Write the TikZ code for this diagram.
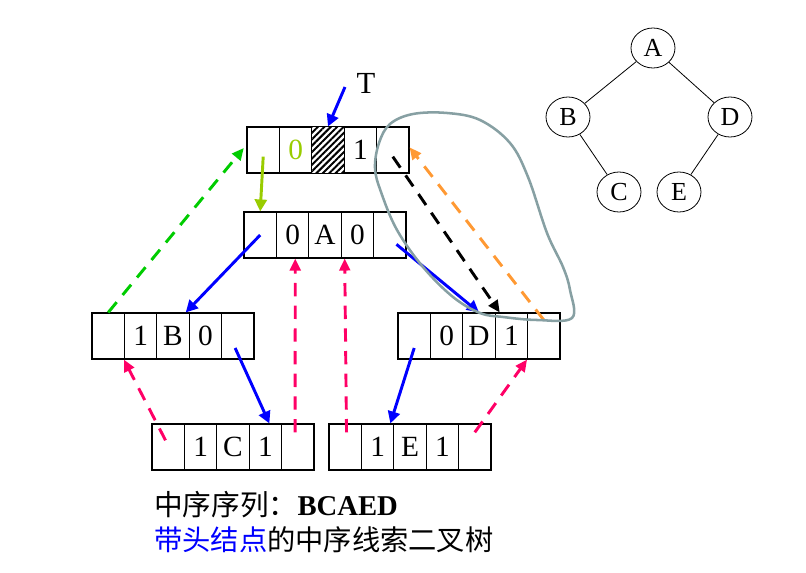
\documentclass[tikz,border=0pt]{standalone}
\usepackage{fontspec}
\setmainfont{Liberation Serif}
\newfontfamily\cjk{Noto Sans CJK SC}
\usetikzlibrary{arrows.meta,shapes.geometric,patterns.meta,calc}
\definecolor{myblue}{RGB}{0,0,255}
\definecolor{mygreen}{RGB}{0,204,0}
\definecolor{myolive}{RGB}{153,204,0}
\definecolor{mypink}{RGB}{255,0,102}
\definecolor{myorange}{RGB}{255,153,51}
\definecolor{loopgray}{RGB}{135,160,163}
\tikzset{
  cellbox/.style={draw,line width=0.8pt,minimum width=24.3pt,minimum height=34.5pt,inner sep=0pt,font=\fontsize{22}{24}\selectfont},
  treenode/.style={draw,ellipse,line width=0.6pt,minimum width=33pt,minimum height=30pt,inner sep=0pt,font=\fontsize{19.5}{21}\selectfont},
  treeedge/.style={line width=0.6pt},
  solidarr/.style={line width=2.2pt,-{Triangle[length=9pt,width=9pt]}},
  dasharr/.style={line width=2.2pt,dash pattern=on 10pt off 7pt,-{Triangle[length=9pt,width=8pt]}},
  loopline/.style={draw=loopgray,line width=1.9pt}
}
\newcommand\rec[8]{%
  \node[cellbox] (#1-1) at ({#2+16.2},{#3+23}) {#4};
  \node[cellbox] (#1-2) at ({#2+48.6},{#3+23}) {#5};
  \node[cellbox] (#1-3) at ({#2+81},{#3+23}) {#6};
  \node[cellbox] (#1-4) at ({#2+113.4},{#3+23}) {#7};
  \node[cellbox] (#1-5) at ({#2+145.8},{#3+23}) {#8};
}
\begin{document}
\begin{tikzpicture}[x=0.75pt,y=-0.75pt]
\useasboundingbox (0,0) rectangle (806,573);
% records
\rec{h}{247}{127}{}{\textcolor{myolive}{0}}{}{1}{}
\fill[white] (h-3.south west) rectangle (h-3.north east);
\fill[pattern={Lines[angle=45,distance=3.4pt,line width=1.5pt]}] (h-3.south west) rectangle (h-3.north east);
\draw[line width=0.8pt] (h-3.south west) rectangle (h-3.north east);
\rec{a}{244}{212}{}{0}{A}{0}{}
\rec{b}{92}{313}{}{1}{B}{0}{}
\rec{d}{398}{313}{}{0}{D}{1}{}
\rec{c}{152}{424}{}{1}{C}{1}{}
\rec{e}{329}{424}{}{1}{E}{1}{}
% T pointer
\node[font=\fontsize{23}{25}\selectfont] (T) at (366,83) {T};
\coordinate (tstart) at (345,87);
\draw[solidarr,myblue] (tstart) -- (h-3.north);
% head -> A
\draw[solidarr,myolive] ([yshift=-5pt]h-1.center) -- (a-1.north);
% solid child links
\draw[solidarr,myblue] (a-1.center) -- ([xshift=-3pt]b-3.north east);
\draw[solidarr,myblue] ([xshift=5pt,yshift=-7pt]a-5.center) -- (d-3.north);
\draw[solidarr,myblue] ([xshift=-2pt,yshift=-9pt]b-5.center) -- ([xshift=3pt]c-4.north);
\draw[solidarr,myblue] ([yshift=-9pt]d-1.center) -- ([xshift=-3pt]e-2.north east);
% thread links
\draw[dasharr,mygreen] (b-1.north) -- ([xshift=-2pt,yshift=1.5pt]h-1.west);
\draw[dasharr,black] ([yshift=-5pt]h-5.center) -- ([xshift=3pt]d-3.north east);
\draw[dasharr,myorange] ([yshift=12pt]d-5.center) -- ([yshift=2pt]h-5.east);
\draw[dasharr,mypink] ([xshift=-2pt,yshift=5pt]c-1.center) -- (b-2.south west);
\draw[dasharr,mypink] ([xshift=-2pt,yshift=11pt]c-5.center) -- ([xshift=2pt]a-2.south);
\draw[dasharr,mypink] ([xshift=1pt,yshift=11pt]e-1.center) -- ([xshift=3pt]a-4.south west);
\draw[dasharr,mypink] ([yshift=11pt]e-5.center) -- (d-5.south west);
% gray loop
\draw[loopline] plot[smooth cycle,tension=0.6] coordinates {(390,124) (413,114) (447,113) (480,120) (510,143) (528,177) (547,233) (563,267) (570,290) (572,318) (537,320) (503,317) (480,313) (453,297) (423,267) (397,230) (381,192) (375,168) (379,143)};
% tree
\node[treenode] (tA) at (653,48) {A};
\node[treenode] (tB) at (568,117) {B};
\node[treenode] (tD) at (730,117) {D};
\node[treenode] (tC) at (619,192) {C};
\node[treenode] (tE) at (679,192) {E};
\draw[treeedge] (tA) -- (tB);
\draw[treeedge] (tA) -- (tD);
\draw[treeedge] (tB) -- (tC);
\draw[treeedge] (tD) -- (tE);
% captions
\node[anchor=west,inner sep=0pt,font=\fontsize{21.5}{23}\selectfont] (cap1) at (154,505) {{\cjk 中序序列：}\textbf{BCAED}};
\node[anchor=west,inner sep=0pt,font=\fontsize{21.2}{23}\selectfont] (cap2) at (154,540) {\cjk\textcolor{myblue}{带头结点}的中序线索二叉树};
\end{tikzpicture}
\end{document}
